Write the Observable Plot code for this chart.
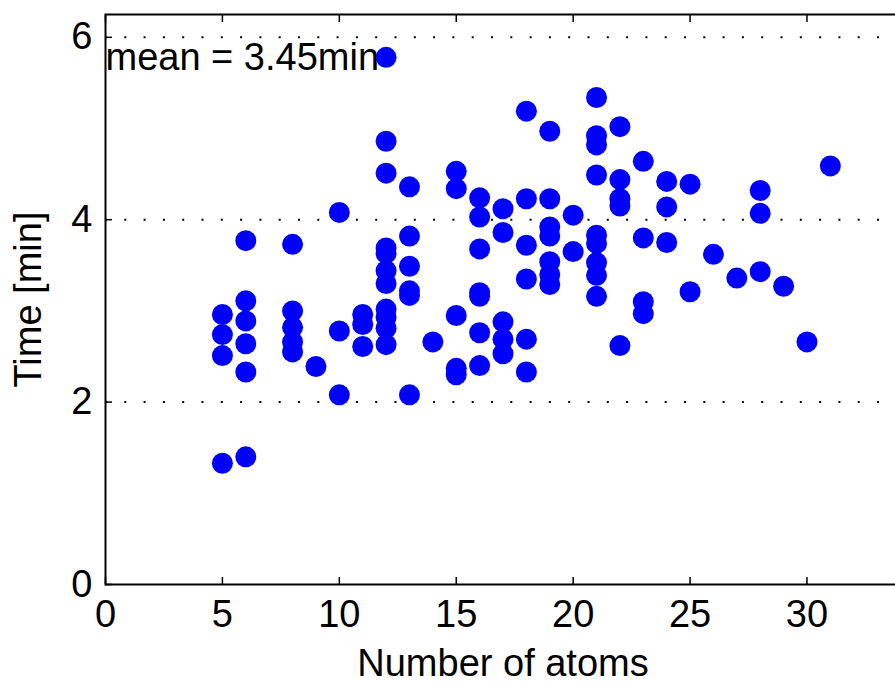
<!DOCTYPE html>
<html>
<head>
<meta charset="utf-8">
<script src="https://cdn.jsdelivr.net/npm/d3@7"></script>
<script src="https://cdn.jsdelivr.net/npm/@observablehq/plot@0.6"></script>
<style>
  html, body { margin: 0; padding: 0; background: #fff; overflow: hidden; width: 895px; height: 682px; }
  #chart { width: 900px; }
  #chart svg { display: block; max-width: none !important; }
</style>
</head>
<body>
<div id="chart"></div>
<script>
// ---- data ----
const atoms = [
  5,5,5,5,
  6,6,6,6,6,6,
  8,8,8,8,8,
  9,
  10,10,10,
  11,11,11,
  12,12,12,12,12,12,12,12,12,12,12,
  13,13,13,13,13,13,
  14,
  15,15,15,15,15,
  16,16,16,16,16,16,16,
  17,17,17,17,17,
  18,18,18,18,18,18,
  19,19,19,19,19,19,19,
  20,20,
  21,21,21,21,21,21,21,21,21,
  22,22,22,22,22,
  23,23,23,23,
  24,24,24,
  25,25,
  26,
  27,
  28,28,28,
  29,
  30,
  31
];
const times = [
  2.96,2.74,2.51,1.33,
  3.77,3.11,2.89,2.64,2.33,1.40,
  3.73,3.00,2.82,2.66,2.55,
  2.39,
  4.08,2.78,2.08,
  2.96,2.85,2.61,
  5.78,4.86,4.51,3.69,3.63,3.44,3.30,3.02,2.93,2.81,2.63,
  4.36,3.82,3.49,3.22,3.17,2.08,
  2.66,
  4.53,4.34,2.95,2.37,2.30,
  4.24,4.03,3.68,3.20,3.16,2.76,2.40,
  4.12,3.86,2.88,2.69,2.53,
  5.19,4.23,3.72,3.35,2.69,2.33,
  4.97,4.23,3.92,3.82,3.54,3.40,3.29,
  4.05,3.65,
  5.34,4.92,4.82,4.49,3.83,3.74,3.53,3.39,3.16,
  5.02,4.44,4.23,4.15,2.62,
  4.64,3.80,3.10,2.97,
  4.42,4.14,3.75,
  4.39,3.21,
  3.62,
  3.36,
  4.32,4.07,3.43,
  3.27,
  2.66,
  4.59
];
const xTicks = [0, 5, 10, 15, 20, 25, 30];
const yTicks = [0, 2, 4, 6];
const yGrid = [2, 4, 6];
const meanValue = 3.45;
const meanLabel = `mean = ${meanValue.toFixed(2)}min`;
const xLabel = "Number of atoms";
const yLabel = "Time [min]";

const points = atoms.map((a, i) => ({atoms: a, time: times[i]}));
const annotation = [{x: 0, y: d3.max(times), text: meanLabel}];

const font = "'Liberation Sans', Arial, Helvetica, sans-serif";
const fs = 38;

const chart = Plot.plot({
  width: 900,
  height: 682,
  marginLeft: 105,
  marginRight: 0,
  marginTop: 14,
  marginBottom: 98,
  style: {fontFamily: font, fontSize: fs + "px", color: "#000", background: "#fff", overflow: "visible", maxWidth: "none"},
  x: {domain: [0, 34]},
  y: {domain: [0, 6.25]},
  marks: [
    Plot.gridY(yGrid, {stroke: "#000", strokeOpacity: 1, strokeWidth: 2, strokeDasharray: "2,17.3"}),
    Plot.axisX(xTicks, {anchor: "bottom", tickSize: -7, tickPadding: 23, strokeWidth: 1.5, fontSize: fs, label: null, tickFormat: d => String(d)}),
    Plot.axisX(xTicks, {anchor: "top", tickSize: -7, strokeWidth: 1.5, tickFormat: () => "", label: null}),
    Plot.axisY(yTicks, {anchor: "left", tickSize: -7, tickPadding: 20, strokeWidth: 1.5, fontSize: fs, label: null, tickFormat: d => String(d)}),
    Plot.frame({stroke: "#000", strokeWidth: 2}),
    Plot.text([xLabel], {frameAnchor: "bottom", dy: 65, lineAnchor: "top", textAnchor: "middle", fontSize: fs, fill: "#000"}),
    Plot.text([yLabel], {frameAnchor: "left", rotate: -90, dx: -77, lineAnchor: "middle", textAnchor: "middle", fontSize: fs, fill: "#000"}),
    Plot.text(annotation, {x: "x", y: "y", text: "text", textAnchor: "start", lineAnchor: "middle", fontSize: fs, fill: "#000"}),
    Plot.dot(points, {x: "atoms", y: "time", r: 10.5, fill: "#0000ff", stroke: "none"})
  ]
});
document.getElementById("chart").appendChild(chart);
</script>
</body>
</html>
